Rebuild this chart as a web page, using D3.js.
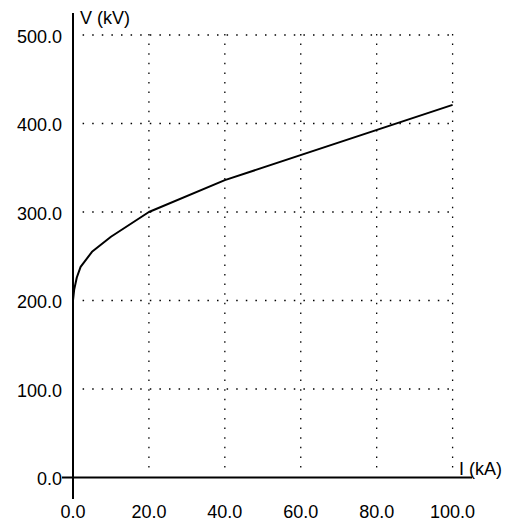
<!DOCTYPE html>
<html>
<head>
  <style>
    body, html { margin: 0; padding: 0; background: #fff; }
    svg { display: block; }
    text { font-family: "Liberation Sans", Arial, sans-serif; font-size: 18px; fill: #000; }
  </style>
</head>
<body>
  <svg id="svg" width="507" height="525"></svg>
  <script src="https://d3js.org/d3.v7.min.js"></script>
  <script>
    // V-I characteristic
    const current = [0, 0.3, 1, 2, 5, 10, 20, 40, 100]
    const voltage = [200, 212, 226, 238, 255, 272, 300, 336, 421]
    const xTicks = [0, 20, 40, 60, 80, 100]
    const yTicks = [0, 100, 200, 300, 400, 500]
    const xTitle = "I (kA)"
    const yTitle = "V (kV)"

    const svg = d3.select("#svg")

    const xScale = d3.scaleLinear().domain([0, 100]).range([73, 452.6])
    const yScale = d3.scaleLinear().domain([0, 500]).range([477.5, 35])

    const fmt = d3.format(".1f")
    const dots = "1.5 8.1"

    // dotted grid
    svg.append("g")
      .selectAll("line")
      .data(yTicks.filter(d => d > 0))
      .join("line")
      .attr("x1", xScale(0) + 9.6)
      .attr("x2", xScale(100) + 1)
      .attr("y1", d => yScale(d))
      .attr("y2", d => yScale(d))
      .attr("stroke", "#000")
      .attr("stroke-width", 1.3)
      .attr("stroke-dasharray", dots)

    svg.append("g")
      .selectAll("line")
      .data(xTicks.filter(d => d > 0))
      .join("line")
      .attr("x1", d => xScale(d))
      .attr("x2", d => xScale(d))
      .attr("y1", yScale(500) - 1)
      .attr("y2", yScale(0) - 9)
      .attr("stroke", "#000")
      .attr("stroke-width", 1.3)
      .attr("stroke-dasharray", dots)

    // axes lines
    svg.append("line")
      .attr("x1", xScale(0)).attr("x2", xScale(0))
      .attr("y1", 13).attr("y2", 499)
      .attr("stroke", "#000").attr("stroke-width", 2)

    svg.append("line")
      .attr("x1", 62).attr("x2", 472)
      .attr("y1", yScale(0)).attr("y2", yScale(0))
      .attr("stroke", "#000").attr("stroke-width", 2)

    // tick labels
    svg.append("g")
      .selectAll("text")
      .data(yTicks)
      .join("text")
      .attr("x", 62)
      .attr("y", d => yScale(d) + 7.5)
      .attr("text-anchor", "end")
      .text(d => fmt(d))

    svg.append("g")
      .selectAll("text")
      .data(xTicks)
      .join("text")
      .attr("x", d => xScale(d))
      .attr("y", 518)
      .attr("text-anchor", "middle")
      .text(d => fmt(d))

    // axis titles
    svg.append("text").attr("x", 80).attr("y", 24).text(yTitle)
    svg.append("text").attr("x", 459).attr("y", 474.5).text(xTitle)

    // curve
    const lineGen = d3.line()
      .x((d, i) => xScale(current[i]))
      .y(d => yScale(d))

    svg.append("path")
      .attr("d", lineGen(voltage))
      .attr("fill", "none")
      .attr("stroke", "#000")
      .attr("stroke-width", 2)
      .attr("stroke-linejoin", "round")
  </script>
</body>
</html>
